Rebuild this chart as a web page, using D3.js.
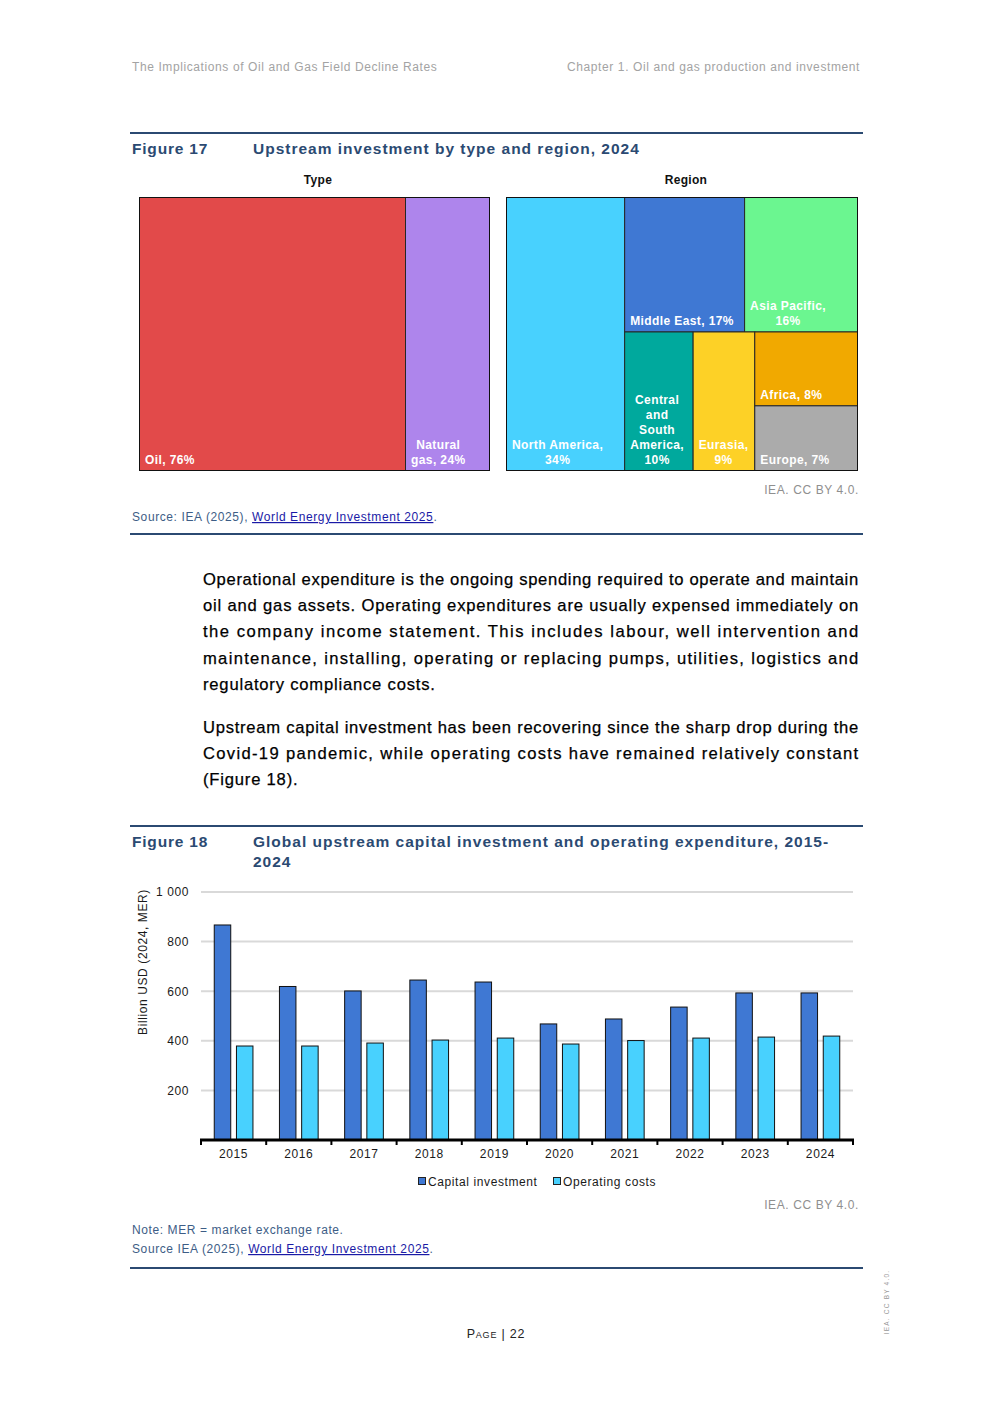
<!DOCTYPE html>
<html><head><meta charset="utf-8">
<script src="https://cdn.jsdelivr.net/npm/d3@7"></script>
<style>
body{margin:0;background:#fff}
svg{display:block}
text{font-family:"Liberation Sans",Arial,sans-serif}
</style>
</head><body>
<svg id="page" width="992" height="1403"></svg>
<script>
// ---------------- DATA ----------------
const typeNames = ["Oil", "Natural gas"];
const typeShares = [76, 24];
const typeLabelLines = [["Oil, 76%"], ["Natural", "gas, 24%"]];

const regionNames = ["North America", "Middle East", "Asia Pacific", "Central and South America", "Eurasia", "Africa", "Europe"];
const regionShares = [34, 17, 16, 10, 9, 8, 7];
const regionLabelLines = [
  ["North America,", "34%"],
  ["Middle East, 17%"],
  ["Asia Pacific,", "16%"],
  ["Central", "and", "South", "America,", "10%"],
  ["Eurasia,", "9%"],
  ["Africa, 8%"],
  ["Europe, 7%"]
];
// nesting of the region treemap (names only)
const regionTree = ["North America", [["Middle East", "Asia Pacific"], ["Central and South America", "Eurasia", ["Africa", "Europe"]]]];

const typeColors = ["#E24A4A", "#AE85EC"];
const regionColors = ["#48D1FE", "#3F78D3", "#6BF690", "#00A99D", "#FDD126", "#F1A900", "#ABABAB"];

const years = ["2015", "2016", "2017", "2018", "2019", "2020", "2021", "2022", "2023", "2024"];
const capitalInvestment = [867, 619, 601, 645, 637, 468, 488, 536, 593, 593];
const operatingCosts = [379, 379, 391, 403, 411, 387, 401, 411, 415, 419];
const seriesNames = ["Capital investment", "Operating costs"];
const seriesColors = ["#3F78D3", "#48D1FE"];
const yTicks = [200, 400, 600, 800, 1000];
const yTickLabels = ["200", "400", "600", "800", "1 000"];

const para1 = [
  "Operational expenditure is the ongoing spending required to operate and maintain",
  "oil and gas assets. Operating expenditures are usually expensed immediately on",
  "the company income statement. This includes labour, well intervention and",
  "maintenance, installing, operating or replacing pumps, utilities, logistics and",
  "regulatory compliance costs."
];
const para2 = [
  "Upstream capital investment has been recovering since the sharp drop during the",
  "Covid-19 pandemic, while operating costs have remained relatively constant",
  "(Figure 18)."
];

// ---------------- DRAW ----------------
const svg = d3.select("#page");
const NAVY = "#2B4A72";
const NOTE = "#3D5D86";
const LINK = "#1a1aa6";
const LS = 0.6; // letter spacing for 12px text

svg.append("rect").attr("width", 992).attr("height", 1403).attr("fill", "#fff");

// header
svg.append("text").attr("x", 132).attr("y", 71).attr("font-size", 12).attr("fill", "#a3a3a3").attr("letter-spacing", LS)
  .text("The Implications of Oil and Gas Field Decline Rates");
svg.append("text").attr("x", 860).attr("y", 71).attr("font-size", 12).attr("fill", "#a3a3a3").attr("letter-spacing", LS)
  .attr("text-anchor", "end").text("Chapter 1. Oil and gas production and investment");

// rules
[133, 534, 826, 1268].forEach(y => svg.append("line").attr("x1", 130).attr("x2", 863)
  .attr("y1", y).attr("y2", y).attr("stroke", NAVY).attr("stroke-width", 2));

function figTitle(y, num, lines) {
  svg.append("text").attr("x", 132).attr("y", y).attr("font-size", 15.5).attr("font-weight", "bold")
    .attr("fill", NAVY).attr("letter-spacing", 0.8).text(num);
  lines.forEach((l, i) => svg.append("text").attr("x", 253).attr("y", y + i * 20).attr("font-size", 15.5)
    .attr("font-weight", "bold").attr("fill", NAVY).attr("letter-spacing", 1.0).text(l));
}
figTitle(154, "Figure 17", ["Upstream investment by type and region, 2024"]);
figTitle(847, "Figure 18", ["Global upstream capital investment and operating expenditure, 2015-", "2024"]);

// ---------- Treemaps ----------
function drawTreemap(g, root, w, h, colorOf, linesOf) {
  d3.treemap().tile(d3.treemapSliceDice).size([w, h]).round(false)(root);
  const leaves = root.leaves();
  g.selectAll("rect.cell").data(leaves).join("rect").attr("class", "cell")
    .attr("x", d => d.x0).attr("y", d => d.y0)
    .attr("width", d => d.x1 - d.x0).attr("height", d => d.y1 - d.y0)
    .attr("fill", d => colorOf(d.data.name)).attr("stroke", "#262626").attr("stroke-width", 1);
  leaves.forEach(d => {
    const lines = linesOf(d.data.name);
    const t = g.append("text").attr("font-size", 12).attr("font-weight", "bold")
      .attr("fill", "#fff").attr("letter-spacing", 0.4);
    const spans = lines.map((l, i) => t.append("tspan").attr("x", 0)
      .attr("y", d.y1 - 7 - (lines.length - 1 - i) * 15).text(l));
    const widths = spans.map(s => s.node().getComputedTextLength());
    const maxW = d3.max(widths);
    spans.forEach(s => s.attr("x", d.x0 + 5.5 + maxW / 2).attr("text-anchor", "middle"));
  });
  g.append("rect").attr("width", w).attr("height", h).attr("fill", "none").attr("stroke", "#111").attr("stroke-width", 1);
}

// type treemap
const typeRoot = d3.hierarchy({ children: typeNames.map((n, i) => ({ name: n, value: typeShares[i] })) })
  .sum(d => d.value || 0);
const gType = svg.append("g").attr("transform", "translate(139.5,197.5)");
drawTreemap(gType, typeRoot, 350, 273,
  n => typeColors[typeNames.indexOf(n)], n => typeLabelLines[typeNames.indexOf(n)]);

// region treemap
function buildNode(item) {
  if (Array.isArray(item)) return { children: item.map(buildNode) };
  return { name: item, value: regionShares[regionNames.indexOf(item)] };
}
const regionRoot = d3.hierarchy(buildNode(regionTree)).sum(d => d.value || 0);
const gReg = svg.append("g").attr("transform", "translate(506.5,197.5)");
drawTreemap(gReg, regionRoot, 351, 273,
  n => regionColors[regionNames.indexOf(n)], n => regionLabelLines[regionNames.indexOf(n)]);

svg.append("text").attr("x", 318).attr("y", 184).attr("text-anchor", "middle").attr("font-size", 12)
  .attr("font-weight", "bold").attr("fill", "#111").attr("letter-spacing", 0.3).text("Type");
svg.append("text").attr("x", 686).attr("y", 184).attr("text-anchor", "middle").attr("font-size", 12)
  .attr("font-weight", "bold").attr("fill", "#111").attr("letter-spacing", 0.3).text("Region");

svg.append("text").attr("x", 859).attr("y", 494).attr("text-anchor", "end").attr("font-size", 12)
  .attr("fill", "#8f8f8f").attr("letter-spacing", LS).text("IEA. CC BY 4.0.");

function sourceLine(y, prefix) {
  const t = svg.append("text").attr("x", 132).attr("y", y).attr("font-size", 12).attr("fill", NOTE).attr("letter-spacing", LS);
  t.append("tspan").text(prefix);
  t.append("tspan").attr("fill", LINK).attr("text-decoration", "underline").text("World Energy Investment 2025");
  t.append("tspan").text(".");
}
sourceLine(521, "Source: IEA (2025), ");

// ---------- Paragraphs ----------
function para(lines, y0) {
  lines.forEach((l, i) => {
    const t = svg.append("text").attr("x", 203).attr("y", y0 + i * 26.2).attr("font-size", 16.6)
      .attr("fill", "#000").attr("letter-spacing", 0.8).attr("stroke", "#000").attr("stroke-width", 0.25)
      .text(l);
    if (i < lines.length - 1) t.attr("textLength", 656).attr("lengthAdjust", "spacing");
  });
}
para(para1, 585);
para(para2, 733);

// ---------- Bar chart ----------
const y = d3.scaleLinear().domain([0, 1000]).range([1140, 892]);
const x0 = d3.scaleBand().domain(years).range([201, 853]).paddingInner(0).paddingOuter(0);
const x1 = d3.scaleBand().domain(seriesNames).range([0, x0.bandwidth()]).paddingInner(0.212).paddingOuter(0.574);

const chart = svg.append("g");
chart.selectAll("line.grid").data(yTicks).join("line").attr("class", "grid")
  .attr("x1", 201).attr("x2", 853).attr("y1", d => y(d)).attr("y2", d => y(d))
  .attr("stroke", "#d9d9d9").attr("stroke-width", 2);

const yAxis = d3.axisLeft(y).tickValues(yTicks).tickSize(0).tickPadding(0)
  .tickFormat((d, i) => yTickLabels[i]);
const gy = chart.append("g").attr("transform", "translate(189,0)").call(yAxis);
gy.select(".domain").remove();
gy.selectAll("text").attr("font-size", 12).attr("fill", "#1a1a1a").attr("letter-spacing", LS)
  .attr("font-family", '"Liberation Sans",Arial,sans-serif');

svg.append("text").attr("transform", "translate(147,962) rotate(-90)").attr("text-anchor", "middle")
  .attr("font-size", 12).attr("fill", "#1a1a1a").attr("letter-spacing", LS).text("Billion USD (2024, MER)");

const seriesData = [capitalInvestment, operatingCosts];
const groups = chart.selectAll("g.year").data(years).join("g").attr("class", "year")
  .attr("transform", d => `translate(${x0(d)},0)`);
groups.selectAll("rect").data((d, i) => seriesNames.map((s, j) => ({ s, v: seriesData[j][i], c: seriesColors[j] })))
  .join("rect")
  .attr("x", d => x1(d.s) + 0.5).attr("width", x1.bandwidth() - 1)
  .attr("y", d => y(d.v)).attr("height", d => y(0) - y(d.v))
  .attr("fill", d => d.c).attr("stroke", "#111").attr("stroke-width", 1);

const xAxis = d3.axisBottom(x0).tickSize(0).tickPadding(9);
const gx = chart.append("g").attr("transform", "translate(0,1140)").call(xAxis);
gx.select(".domain").attr("stroke", "#000").attr("stroke-width", 3).attr("d", "M200,0H854");
gx.selectAll("text").attr("font-size", 12).attr("fill", "#1a1a1a").attr("letter-spacing", LS)
  .attr("font-family", '"Liberation Sans",Arial,sans-serif');
const boundaries = years.map(d => x0(d)).concat([x0.range()[1]]);
gx.selectAll("line.bt").data(boundaries).join("line").attr("class", "bt")
  .attr("x1", d => d).attr("x2", d => d).attr("y1", 0).attr("y2", 5)
  .attr("stroke", "#000").attr("stroke-width", 2);

// legend
const legX = [418, 553];
seriesNames.forEach((s, i) => {
  svg.append("rect").attr("x", legX[i] + 0.5).attr("y", 1177.5).attr("width", 7).attr("height", 7)
    .attr("fill", seriesColors[i]).attr("stroke", "#222").attr("stroke-width", 1);
  svg.append("text").attr("x", legX[i] + 10).attr("y", 1186).attr("font-size", 12).attr("fill", "#1a1a1a")
    .attr("letter-spacing", LS).text(s);
});

svg.append("text").attr("x", 859).attr("y", 1209).attr("text-anchor", "end").attr("font-size", 12)
  .attr("fill", "#8f8f8f").attr("letter-spacing", LS).text("IEA. CC BY 4.0.");
svg.append("text").attr("x", 132).attr("y", 1234).attr("font-size", 12).attr("fill", NOTE).attr("letter-spacing", LS)
  .text("Note: MER = market exchange rate.");
sourceLine(1253, "Source IEA (2025), ");

// footer
svg.append("text").attr("x", 496).attr("y", 1338).attr("text-anchor", "middle").attr("font-size", 12.5)
  .attr("fill", "#222").attr("letter-spacing", 0.8).attr("font-variant", "small-caps").text("Page | 22");
svg.append("text").attr("transform", "translate(889,1302) rotate(-90)").attr("text-anchor", "middle")
  .attr("font-size", 6.5).attr("letter-spacing", 1.2).attr("fill", "#999").text("IEA. CC BY 4.0.");
</script>
</body></html>
